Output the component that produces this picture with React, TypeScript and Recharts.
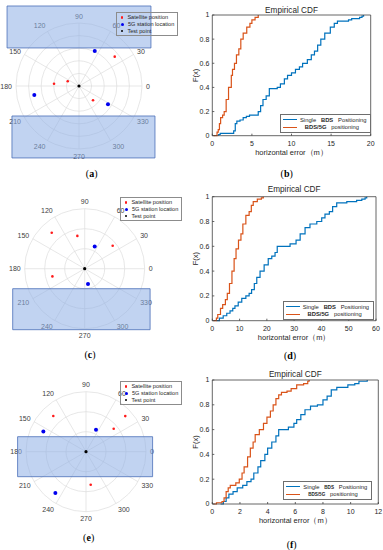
import React from "react";
import {
  ScatterChart,
  Scatter,
  XAxis,
  YAxis,
  ReferenceArea,
  Legend,
  RadarChart,
  PolarGrid,
  PolarAngleAxis,
  PolarRadiusAxis,
  LineChart,
  Line,
} from "recharts";

const FONT = '"Liberation Sans", Arial, Helvetica, sans-serif';
const SERIF = '"Liberation Serif", "Times New Roman", serif';
const TEXT = "#262626";
const GRID = "#dcdcdc";
const SHADE_FILL = "#8eaee6";
const SHADE_STROKE = "#4a6fb8";
const SAT_RED = "#ff1a1a";
const BS_BLUE = "#0000ee";
const CDF_BLUE = "#0072bd";
const CDF_ORANGE = "#d95319";

const ANGLE_TICKS = [0, 30, 60, 90, 120, 150, 180, 210, 240, 270, 300, 330];
const POLAR_LEGEND = ["Satellite position", "5G station location", "Test point"];
const POLAR_LEGEND_COLORS = [SAT_RED, BS_BLUE, "#000000"];

// polar panels: theta in degrees, rho in grid rings
const A_SAT_THETA = [39.4, 157.4, 174.7, 314.4];
const A_SAT_RHO = [3.67, 0.97, 1.99, 1.59];
const A_BS_THETA = [65.8, 191.4, 327.7];
const A_BS_RHO = [3.05, 3.62, 2.72];
// shaded regions [x1, x2, y1, y2] in rho units
const A_SHADE = [
  [-5.71, 5.71, 3.02, 6.35],
  [-5.32, 6.03, -5.71, -2.38],
];

const C_SAT_THETA = [132.5, 102.6, 39.4, 193.4];
const C_SAT_RHO = [2.44, 1.68, 1.81, 1.66];
const C_BS_THETA = [65.8, 282.2];
const C_BS_RHO = [1.22, 0.78];
const C_SHADE = [[-3.6, 3.27, -3.05, -1.0]];

const E_SAT_THETA = [132.5, 42.2, 39.7, 278.1];
const E_SAT_RHO = [2.42, 2.65, 1.8, 1.67];
const E_BS_THETA = [154.6, 65.6, 233.4];
const E_BS_RHO = [2.36, 1.21, 2.57];
const E_SHADE = [[-3.42, 3.33, -1.25, 0.75]];

const TEST_THETA = [0];
const TEST_RHO = [0];

// empirical CDFs: error (m) and F(x)
const B_SINGLE_X = [0.8, 0.8, 1.0, 2.7, 2.9, 3.1, 3.5, 3.9, 4.3, 4.7, 5.8, 6.1, 6.4, 6.8, 7.2, 8.2, 8.6, 9.1, 9.5, 10.0, 10.5, 11.0, 11.4, 12.0, 12.5, 12.9, 13.3, 13.7, 14.2, 14.9, 15.4, 15.8, 17.2, 17.6, 18.6, 18.9, 19.1];
const B_SINGLE_F = [0, 0.01, 0.02, 0.04, 0.1, 0.12, 0.13, 0.15, 0.16, 0.17, 0.2, 0.25, 0.3, 0.33, 0.39, 0.4, 0.43, 0.47, 0.5, 0.52, 0.55, 0.57, 0.6, 0.63, 0.67, 0.7, 0.75, 0.8, 0.85, 0.9, 0.93, 0.95, 0.96, 0.97, 0.98, 0.99, 1.0];
const B_FUSED_X = [0.2, 0.6, 0.75, 0.9, 1.05, 1.3, 1.5, 1.75, 2.05, 2.4, 2.55, 2.8, 3.05, 3.35, 3.6, 3.9, 4.35, 4.75, 5.0, 5.4, 5.8];
const B_FUSED_F = [0, 0.03, 0.05, 0.1, 0.15, 0.17, 0.2, 0.3, 0.4, 0.5, 0.55, 0.6, 0.67, 0.72, 0.8, 0.85, 0.9, 0.93, 0.96, 0.98, 1.0];

const D_SINGLE_X = [1.6, 2.6, 4.0, 5.3, 6.5, 7.5, 8.3, 9.5, 10.8, 12.3, 13.5, 14.4, 15.4, 16.3, 17.5, 19.0, 20.5, 21.8, 23.0, 23.8, 28.5, 30.7, 32.2, 34.0, 35.8, 38.3, 40.1, 41.3, 42.9, 44.1, 45.6, 49.3, 52.9, 54.8, 56.0, 56.6];
const D_SINGLE_F = [0, 0.02, 0.04, 0.06, 0.08, 0.1, 0.12, 0.15, 0.18, 0.2, 0.22, 0.25, 0.3, 0.35, 0.4, 0.45, 0.5, 0.52, 0.55, 0.6, 0.62, 0.65, 0.7, 0.75, 0.78, 0.8, 0.83, 0.86, 0.88, 0.92, 0.95, 0.96, 0.97, 0.98, 0.99, 1.0];
const D_FUSED_X = [0.5, 1.5, 2.0, 3.0, 3.8, 4.8, 5.5, 6.3, 7.2, 8.0, 8.7, 9.6, 10.5, 11.2, 12.3, 13.5, 14.3, 15.0, 16.5, 18.0, 18.7];
const D_FUSED_F = [0, 0.02, 0.05, 0.1, 0.13, 0.17, 0.22, 0.3, 0.4, 0.5, 0.58, 0.65, 0.7, 0.78, 0.85, 0.88, 0.93, 0.96, 0.98, 0.99, 1.0];

const F_SINGLE_X = [0.6, 0.8, 1.0, 1.2, 1.5, 1.8, 2.2, 2.5, 2.8, 3.0, 3.3, 3.5, 3.8, 4.0, 4.3, 4.6, 4.8, 5.5, 5.9, 6.1, 6.4, 6.7, 7.1, 7.6, 8.0, 8.3, 8.6, 9.0, 9.8, 10.3, 10.6, 11.2];
const F_SINGLE_F = [0, 0.02, 0.05, 0.08, 0.1, 0.13, 0.15, 0.18, 0.2, 0.25, 0.3, 0.35, 0.4, 0.45, 0.5, 0.55, 0.6, 0.62, 0.65, 0.68, 0.72, 0.76, 0.79, 0.8, 0.84, 0.87, 0.92, 0.94, 0.96, 0.97, 0.99, 1.0];
const F_FUSED_X = [0.1, 0.3, 0.7, 0.85, 1.0, 1.15, 1.3, 1.7, 1.95, 2.15, 2.3, 2.55, 2.75, 2.95, 3.1, 3.4, 3.7, 3.95, 4.2, 4.4, 4.6, 4.8, 5.0, 5.4, 5.7, 6.1, 6.6, 6.9, 7.0];
const F_FUSED_F = [0, 0.01, 0.02, 0.05, 0.1, 0.13, 0.15, 0.17, 0.2, 0.25, 0.3, 0.38, 0.45, 0.5, 0.56, 0.6, 0.65, 0.7, 0.75, 0.8, 0.85, 0.88, 0.9, 0.91, 0.93, 0.96, 0.97, 0.99, 1.0];

const Y_TICKS = [0, 0.2, 0.4, 0.6, 0.8, 1];

const toXY = (theta: number[], rho: number[]) =>
  theta.map((t, i) => ({
    x: rho[i] * Math.cos((t * Math.PI) / 180),
    y: rho[i] * Math.sin((t * Math.PI) / 180),
  }));

const dot = (r: number, fill: string) => (p: any) =>
  <circle cx={p.cx} cy={p.cy} r={r} fill={fill} />;

const AngleTick = (props: any) => {
  const { x, y, textAnchor, payload } = props;
  const rad = (Number(payload.value) * Math.PI) / 180;
  return (
    <text
      x={x}
      y={y - Math.sin(rad) * 3}
      textAnchor={textAnchor}
      dominantBaseline="central"
      fontSize={7}
      fontFamily={FONT}
      fill="#404040"
    >
      {payload.value}
    </text>
  );
};

const PolarLegend = () => (
  <div
    style={{
      border: "0.7px solid #8c8c8c",
      padding: "1px 3px 1px 2px",
      fontFamily: FONT,
      fontSize: 5.6,
      lineHeight: "6.8px",
      color: TEXT,
      whiteSpace: "nowrap",
    }}
  >
    {POLAR_LEGEND.map((t, i) => (
      <div key={t} style={{ display: "flex", alignItems: "center" }}>
        <span
          style={{
            display: "inline-block",
            width: i === 1 ? 3 : 2.4,
            height: i === 1 ? 3 : 2.4,
            borderRadius: "50%",
            background: POLAR_LEGEND_COLORS[i],
            margin: "0 4px 0 2px",
          }}
        />
        {t}
      </div>
    ))}
  </div>
);

function PolarPanel(props: {
  top: number;
  height: number;
  cx: number;
  cy: number;
  outerR: number;
  rMax: number;
  satTheta: number[];
  satRho: number[];
  bsTheta: number[];
  bsRho: number[];
  shade: number[][];
  legendX: number;
  legendY: number;
}) {
  const { top, height, cx, cy, outerR, rMax } = props;
  const W = 190;
  const k = outerR / rMax;
  const xDomain = [-cx / k, (W - cx) / k];
  const yDomain = [-(height - cy) / k, cy / k];
  const rings = Array.from({ length: rMax }, (_, i) => (i + 1) * k);
  const zero = { top: 0, right: 0, bottom: 0, left: 0 };

  return (
    <div style={{ position: "absolute", left: 0, top, width: W, height }}>
      <div style={{ position: "absolute", left: 0, top: 0 }}>
        <RadarChart
          width={W}
          height={height}
          cx={cx}
          cy={cy}
          outerRadius={outerR}
          startAngle={30}
          endAngle={390}
          margin={zero}
          data={ANGLE_TICKS.map((a) => ({ angle: String(a) }))}
        >
          <PolarGrid
            gridType="circle"
            polarAngles={ANGLE_TICKS}
            polarRadius={rings}
            stroke={GRID}
            strokeWidth={0.7}
          />
          <PolarAngleAxis
            dataKey="angle"
            tick={AngleTick}
            tickSize={4}
            tickLine={false}
            axisLine={false}
          />
          <PolarRadiusAxis
            type="number"
            domain={[0, rMax]}
            tickCount={rMax + 1}
            tick={false}
            axisLine={false}
          />
        </RadarChart>
      </div>
      <div style={{ position: "absolute", left: 0, top: 0 }}>
        <ScatterChart width={W} height={height} margin={zero}>
          <XAxis type="number" dataKey="x" domain={xDomain} allowDataOverflow hide />
          <YAxis type="number" dataKey="y" domain={yDomain} allowDataOverflow hide />
          {props.shade.map((s, i) => (
            <ReferenceArea
              key={i}
              x1={s[0]}
              x2={s[1]}
              y1={s[2]}
              y2={s[3]}
              fill={SHADE_FILL}
              fillOpacity={0.55}
              stroke={SHADE_STROKE}
              strokeWidth={0.8}
            />
          ))}
          <Scatter
            name="Satellite position"
            data={toXY(props.satTheta, props.satRho)}
            shape={dot(1.3, SAT_RED)}
            isAnimationActive={false}
          />
          <Scatter
            name="5G station location"
            data={toXY(props.bsTheta, props.bsRho)}
            shape={dot(2, BS_BLUE)}
            isAnimationActive={false}
          />
          <Scatter
            name="Test point"
            data={toXY(TEST_THETA, TEST_RHO)}
            shape={dot(1.6, "#000000")}
            isAnimationActive={false}
          />
          <Legend
            layout="vertical"
            align="center"
            verticalAlign="middle"
            content={PolarLegend}
            wrapperStyle={{
              left: props.legendX,
              top: props.legendY - top,
              width: "auto",
              height: "auto",
            }}
          />
        </ScatterChart>
      </div>
    </div>
  );
}

const LegendRow = (p: { color: string; children: React.ReactNode }) => (
  <div style={{ display: "flex", alignItems: "center", height: 7.5 }}>
    <span
      style={{
        display: "inline-block",
        width: 14,
        height: 0,
        borderTop: `1.2px solid ${p.color}`,
        margin: "0 3px 0 1px",
      }}
    />
    <span>{p.children}</span>
  </div>
);

const makeCdfLegend = (small: boolean) => () => (
  <div
    style={{
      border: "0.7px solid #6e6e6e",
      background: "#ffffff",
      padding: "1px 4px 1px 1px",
      fontFamily: FONT,
      fontSize: 5.8,
      color: TEXT,
      whiteSpace: "pre",
    }}
  >
    <LegendRow color={CDF_BLUE}>
      {"Single   "}
      <b style={{ fontSize: small ? 4.6 : 5.8 }}>BDS</b>
      {"   Positioning"}
    </LegendRow>
    <LegendRow color={CDF_ORANGE}>
      {"   "}
      <b style={{ fontSize: small ? 4.6 : 5.8 }}>BDS/5G</b>
      {"   positioning"}
    </LegendRow>
  </div>
);

function CdfPanel(props: {
  top: number;
  height: number;
  plotTop: number;
  plotBottom: number;
  plotRight: number;
  titleY: number;
  xMax: number;
  xTicks: number[];
  singleX: number[];
  singleF: number[];
  fusedX: number[];
  fusedF: number[];
  legendX: number;
  legendY: number;
  smallBds: boolean;
}) {
  const { top, height } = props;
  const left = 190;
  const W = 193;
  const single = props.singleX.map((x, i) => ({ x, f: props.singleF[i] }));
  const fused = props.fusedX.map((x, i) => ({ x, f: props.fusedF[i] }));
  const tickStyle = { fontSize: 7, fontFamily: FONT, fill: TEXT };
  const axisLine = { stroke: "#404040", strokeWidth: 0.8 };

  return (
    <div style={{ position: "absolute", left, top, width: W, height }}>
      <LineChart
        width={W}
        height={height}
        margin={{ top: 0, right: 383 - props.plotRight - 1, bottom: 0, left: 0 }}
      >
        <XAxis
          xAxisId="top"
          orientation="top"
          type="number"
          domain={[0, props.xMax]}
          height={props.plotTop - top}
          tick={false}
          tickLine={false}
          axisLine={axisLine}
          label={{
            value: "Empirical CDF",
            position: "insideTop",
            offset: props.titleY - top - 2.9,
            fontSize: 8.2,
            fontFamily: FONT,
            fill: TEXT,
          }}
        />
        <XAxis
          type="number"
          dataKey="x"
          domain={[0, props.xMax]}
          ticks={props.xTicks}
          height={top + height - props.plotBottom}
          tick={tickStyle}
          tickSize={-2}
          tickMargin={7.5}
          tickLine={axisLine}
          axisLine={axisLine}
          label={{
            value: "horizontal error（m）",
            position: "insideTop",
            offset: 14,
            fontSize: 7.5,
            fontFamily: FONT,
            fill: TEXT,
          }}
        />
        <YAxis
          type="number"
          domain={[0, 1]}
          ticks={Y_TICKS}
          width={22.3}
          tick={tickStyle}
          tickSize={-2}
          tickMargin={5}
          tickLine={axisLine}
          axisLine={axisLine}
          label={{
            value: "F(x)",
            angle: -90,
            position: "insideLeft",
            offset: 5,
            fontSize: 7.5,
            fontFamily: FONT,
            fill: TEXT,
            style: { textAnchor: "middle" },
          }}
        />
        <YAxis
          yAxisId="right"
          orientation="right"
          type="number"
          domain={[0, 1]}
          width={1}
          tick={false}
          tickLine={false}
          axisLine={axisLine}
        />
        <Line
          data={single}
          dataKey="f"
          type="stepAfter"
          stroke={CDF_BLUE}
          strokeWidth={1.2}
          dot={false}
          isAnimationActive={false}
        />
        <Line
          data={fused}
          dataKey="f"
          type="stepAfter"
          stroke={CDF_ORANGE}
          strokeWidth={1.2}
          dot={false}
          isAnimationActive={false}
        />
        <Legend
          layout="vertical"
          align="center"
          verticalAlign="middle"
          content={makeCdfLegend(props.smallBds)}
          wrapperStyle={{
            left: props.legendX - left,
            top: props.legendY - top,
            width: "auto",
            height: "auto",
          }}
        />
      </LineChart>
    </div>
  );
}

const PanelLabel = (p: { x: number; y: number; letter: string }) => (
  <div
    style={{
      position: "absolute",
      left: p.x,
      top: p.y,
      transform: "translate(-50%, -50%)",
      fontFamily: SERIF,
      fontSize: 10,
      color: "#000",
    }}
  >
    (<b>{p.letter}</b>)
  </div>
);

export default function App() {
  return (
    <div
      style={{
        position: "absolute",
        left: 0,
        top: 0,
        width: 383,
        height: 550,
        background: "#ffffff",
        overflow: "hidden",
      }}
    >
      <PolarPanel
        top={0}
        height={168}
        cx={79}
        cy={86}
        outerR={63}
        rMax={5}
        satTheta={A_SAT_THETA}
        satRho={A_SAT_RHO}
        bsTheta={A_BS_THETA}
        bsRho={A_BS_RHO}
        shade={A_SHADE}
        legendX={116}
        legendY={12}
      />
      <PolarPanel
        top={185}
        height={170}
        cx={84.7}
        cy={83.7}
        outerR={60}
        rMax={3}
        satTheta={C_SAT_THETA}
        satRho={C_SAT_RHO}
        bsTheta={C_BS_THETA}
        bsRho={C_BS_RHO}
        shade={C_SHADE}
        legendX={120}
        legendY={197}
      />
      <PolarPanel
        top={365}
        height={165}
        cx={86}
        cy={86.7}
        outerR={60}
        rMax={3}
        satTheta={E_SAT_THETA}
        satRho={E_SAT_RHO}
        bsTheta={E_BS_THETA}
        bsRho={E_BS_RHO}
        shade={E_SHADE}
        legendX={120}
        legendY={381}
      />
      <CdfPanel
        top={0}
        height={165}
        plotTop={15}
        plotBottom={135.7}
        plotRight={370.7}
        titleY={10}
        xMax={20}
        xTicks={[0, 5, 10, 15, 20]}
        singleX={B_SINGLE_X}
        singleF={B_SINGLE_F}
        fusedX={B_FUSED_X}
        fusedF={B_FUSED_F}
        legendX={280}
        legendY={114}
        smallBds={false}
      />
      <CdfPanel
        top={180}
        height={165}
        plotTop={196.7}
        plotBottom={320.7}
        plotRight={376}
        titleY={189}
        xMax={60}
        xTicks={[0, 10, 20, 30, 40, 50, 60]}
        singleX={D_SINGLE_X}
        singleF={D_SINGLE_F}
        fusedX={D_FUSED_X}
        fusedF={D_FUSED_F}
        legendX={282.7}
        legendY={301}
        smallBds={false}
      />
      <CdfPanel
        top={362}
        height={188}
        plotTop={380}
        plotBottom={504}
        plotRight={378.3}
        titleY={374}
        xMax={12}
        xTicks={[0, 2, 4, 6, 8, 10, 12]}
        singleX={F_SINGLE_X}
        singleF={F_SINGLE_F}
        fusedX={F_FUSED_X}
        fusedF={F_FUSED_F}
        legendX={283.3}
        legendY={481}
        smallBds={true}
      />
      <PanelLabel x={91.7} y={173.3} letter="a" />
      <PanelLabel x={286.7} y={173} letter="b" />
      <PanelLabel x={90} y={354} letter="c" />
      <PanelLabel x={290} y={355} letter="d" />
      <PanelLabel x={88.7} y={536.7} letter="e" />
      <PanelLabel x={291.7} y={544} letter="f" />
    </div>
  );
}
